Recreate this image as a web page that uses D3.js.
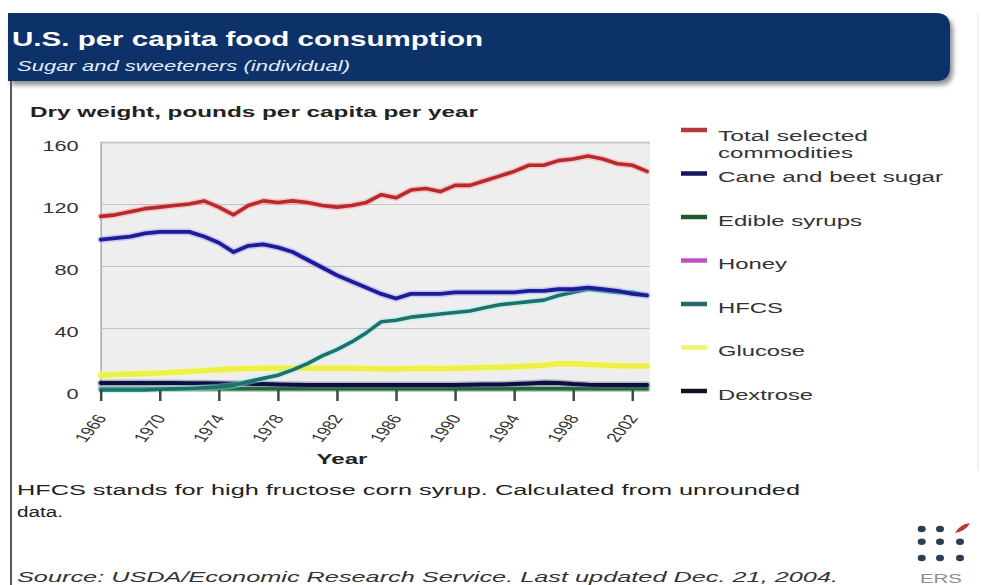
<!DOCTYPE html>
<html>
<head>
<meta charset="utf-8">
<script src="https://cdn.jsdelivr.net/npm/d3@7"></script>
<style>
  html, body { margin: 0; padding: 0; background: #ffffff; }
  svg { display: block; font-family: "Liberation Sans", Arial, sans-serif; }
</style>
</head>
<body>
<svg id="chart" width="981" height="585"></svg>
<script>
// ---------- DATA ----------
const years = [1966,1967,1968,1969,1970,1971,1972,1973,1974,1975,1976,1977,1978,1979,1980,1981,1982,1983,1984,1985,
               1986,1987,1988,1989,1990,1991,1992,1993,1994,1995,1996,1997,1998,1999,2000,2001,2002,2003];

const totalSelected = [112,113,115,117,118,119,120,122,118,113,119,122,121,122,121,119,118,119,121,126,
                       124,129,130,128,132,132,135,138,141,145,145,148,149,151,149,146,145,141];
const caneBeet      = [97,98,99,101,102,102,102,99,95,89,93,94,92,89,84,79,74,70,66,62,
                       59,62,62,62,63,63,63,63,63,64,64,65,65,66,65,64,62,61];
const edibleSyrups  = [0.8,0.8,0.8,0.8,0.8,0.8,0.8,0.8,0.8,0.8,0.8,0.8,0.8,0.8,0.8,0.8,0.8,0.8,0.8,0.8,
                       0.8,0.8,0.8,0.8,0.8,0.8,0.8,0.8,0.8,0.8,0.8,0.8,0.8,0.8,0.8,0.8,0.8,0.8];
const honey         = [1.0,1.0,1.0,1.0,1.0,1.0,1.0,1.0,1.0,1.0,1.0,1.0,1.0,1.0,1.0,1.0,1.0,1.0,1.0,1.0,
                       1.0,1.0,1.0,1.0,1.0,1.0,1.0,1.0,1.0,1.0,1.0,1.0,1.0,1.0,1.0,1.0,1.0,1.0];
const hfcs          = [0,0,0,0,0.5,0.7,1,1.5,2,3,5.5,7.5,9.5,13,17,22,26,31,37,44,
                       45,47,48,49,50,51,53,55,56,57,58,61,63,65,64,63,63,61];
const glucose       = [9.5,10,10.3,10.6,11,11.5,12,12.5,13,13.5,13.8,14,14,14,14,14,14,14,13.8,13.6,
                       13.5,13.8,14,13.8,14,14.2,14.5,14.7,15,15.5,16,17,17,16.5,16,15.7,15.5,15.5];
const dextrose      = [4.5,4.5,4.5,4.5,4.5,4.5,4.4,4.3,4.2,4.1,4.0,3.8,3.5,3.4,3.3,3.3,3.3,3.3,3.3,3.3,
                       3.3,3.3,3.3,3.3,3.3,3.4,3.5,3.6,3.8,4.2,4.6,4.5,3.8,3.4,3.3,3.2,3.2,3.2];

const seriesNames = ["Total selected commodities","Cane and beet sugar","Edible syrups","Honey","HFCS","Glucose","Dextrose"];
const xTickYears  = [1966,1970,1974,1978,1982,1986,1990,1994,1998,2002];
const yTickValues = [0,40,80,120,160];

// ---------- STYLE / LAYOUT ----------
const series = [
  {name: seriesNames[0], values: totalSelected, color: "#b8282c", halo: "#f29a9a", legend: "#b33a3a", w: 3.6, order: 6, lw: 225},
  {name: seriesNames[1], values: caneBeet,      color: "#1c1c9a", halo: "#9a9ae8", legend: "#151560", w: 3.8, order: 5, lw: 225},
  {name: seriesNames[2], values: edibleSyrups,  color: "#1d6a32", halo: "#7fbf8f", legend: "#1e5a2a", w: 3.6, order: 2, lw: 144},
  {name: seriesNames[3], values: honey,         color: "#c040c0", halo: "#e8a0e8", legend: "#c050c0", w: 3.0, order: 1, lw: 69},
  {name: seriesNames[4], values: hfcs,          color: "#1e7068", halo: "#8ef0f0", legend: "#2a6a6a", w: 3.6, order: 4, lw: 65},
  {name: seriesNames[5], values: glucose,       color: "#eef04a", halo: "#f8f8b0", legend: "#f2f26a", w: 5.5, order: 0, lw: 87},
  {name: seriesNames[6], values: dextrose,      color: "#0c1040", halo: "#6a6a90", legend: "#111122", w: 4.0, order: 3, lw: 95}
];

const SX = 1.5; // horizontal stretch of the reference image's text
const svg = d3.select("#chart");

// ---------- HEADER ----------
const defs = svg.append("defs");
const f = defs.append("filter").attr("id", "shadow").attr("x", "-5%").attr("y", "-20%").attr("width", "110%").attr("height", "160%");
f.append("feGaussianBlur").attr("in", "SourceAlpha").attr("stdDeviation", 2.5);
f.append("feOffset").attr("dx", 3).attr("dy", 4).attr("result", "ob");
f.append("feComponentTransfer").append("feFuncA").attr("type", "linear").attr("slope", 0.45);
const fm = f.append("feMerge");
fm.append("feMergeNode");
fm.append("feMergeNode").attr("in", "SourceGraphic");

const hx0 = 8, hy0 = 13, hx1 = 950, hy1 = 81, hr = 14;
svg.append("path")
  .attr("d", `M${hx0},${hy0} H${hx1 - hr} Q${hx1},${hy0} ${hx1},${hy0 + hr} V${hy1 - hr} Q${hx1},${hy1} ${hx1 - hr},${hy1} H${hx0} Z`)
  .attr("fill", "#08306a")
  .attr("filter", "url(#shadow)");

function stretchedText(sel, x, y, str, opts) {
  const t = sel.append("text")
    .attr("transform", `translate(${x},${y}) scale(${SX},1)`)
    .attr("x", 0).attr("y", 0)
    .attr("font-size", opts.size)
    .attr("font-weight", opts.weight || "normal")
    .attr("font-style", opts.style || "normal")
    .attr("fill", opts.fill || "#222")
    .attr("text-anchor", opts.anchor || "start")
    .text(str);
  if (opts.width) t.attr("textLength", opts.width / SX).attr("lengthAdjust", "spacingAndGlyphs");
  return t;
}

stretchedText(svg, 12, 46, "U.S. per capita food consumption", {size: 19.5, weight: "bold", fill: "#ffffff", width: 471});
stretchedText(svg, 17, 71, "Sugar and sweeteners (individual)", {size: 15.5, style: "italic", fill: "#e6ecf4", width: 333});

// left border
svg.append("line").attr("x1", 11).attr("x2", 11).attr("y1", 81).attr("y2", 585)
  .attr("stroke", "#555a60").attr("stroke-width", 2);
svg.append("line").attr("x1", 978).attr("x2", 978).attr("y1", 14).attr("y2", 470)
  .attr("stroke", "#e6e6e6").attr("stroke-width", 1);

// ---------- PLOT ----------
const x = d3.scaleLinear().domain([1966, 2003.2]).range([100.7, 650]);
const y = d3.scaleLinear().domain([0, 160]).range([390, 142]);

svg.append("rect")
  .attr("x", x.range()[0]).attr("y", y(160))
  .attr("width", x.range()[1] - x.range()[0]).attr("height", y(0) - y(160))
  .attr("fill", "#eeeeee");

// y axis + gridlines
const yAxis = svg.append("g")
  .attr("transform", `translate(${x.range()[0]},0)`)
  .call(d3.axisLeft(y).tickValues(yTickValues).tickSize(-(x.range()[1] - x.range()[0])).tickPadding(0));
yAxis.select(".domain").attr("stroke", "#a8a8a8").attr("stroke-width", 1.5);
yAxis.selectAll(".tick line").attr("stroke", "#c4c4c4").attr("stroke-width", 1.2);
yAxis.selectAll(".tick text")
  .attr("x", 0).attr("dy", "0.36em")
  .attr("transform", `translate(-22,3) scale(${SX},1)`)
  .attr("font-size", 14.5).attr("fill", "#333").attr("text-anchor", "end")
  .attr("font-family", "Liberation Sans, Arial, sans-serif");

// y title
stretchedText(svg, 30, 117, "Dry weight, pounds per capita per year", {size: 14.5, weight: "bold", fill: "#222", width: 448});

// lines
const line = d3.line().x((d, i) => x(years[i])).y(d => y(d));
const drawOrder = series.slice().sort((a, b) => a.order - b.order);
const lineG = svg.append("g");
drawOrder.forEach(s => {
  lineG.append("path").datum(s.values).attr("d", line)
    .attr("fill", "none").attr("stroke", s.halo).attr("stroke-width", s.w + 3)
    .attr("stroke-opacity", 0.45).attr("stroke-linejoin", "round").attr("stroke-linecap", "round");
  lineG.append("path").datum(s.values).attr("d", line)
    .attr("fill", "none").attr("stroke", s.color).attr("stroke-width", s.w)
    .attr("stroke-linejoin", "round").attr("stroke-linecap", "round");
});

// x axis
const xAxis = svg.append("g")
  .attr("transform", `translate(0,${y(0)})`)
  .call(d3.axisBottom(x).tickValues(xTickYears).tickFormat(d3.format("d")).tickSize(11).tickSizeOuter(0));
xAxis.select(".domain").remove();
xAxis.selectAll(".tick line").attr("stroke", "#3d4a3f").attr("stroke-width", 2.5);
xAxis.selectAll(".tick text")
  .attr("x", 0).attr("y", 0).attr("dy", 0)
  .attr("transform", `translate(6,28) scale(${SX},1) rotate(-60)`)
  .attr("text-anchor", "end").attr("font-size", 13).attr("fill", "#333")
  .attr("font-family", "Liberation Sans, Arial, sans-serif");

stretchedText(svg, 342, 464, "Year", {size: 14.5, weight: "bold", anchor: "middle", fill: "#222", width: 51});

// ---------- LEGEND ----------
const legendY = [130, 173.5, 217, 260.5, 304, 347.5, 391];
const legend = svg.append("g");
series.forEach((s, i) => {
  legend.append("line")
    .attr("x1", 681).attr("x2", 707).attr("y1", legendY[i]).attr("y2", legendY[i])
    .attr("stroke", s.legend).attr("stroke-width", 4.5);
  if (i === 0) {
    stretchedText(legend, 718, 140.5, "Total selected", {size: 15, fill: "#333", width: 150});
    stretchedText(legend, 718, 157.5, "commodities", {size: 15, fill: "#333", width: 135});
  } else {
    stretchedText(legend, 718, legendY[i] + 8.5, s.name, {size: 15, fill: "#333", width: s.lw});
  }
});

// ---------- NOTES ----------
stretchedText(svg, 17, 495, "HFCS stands for high fructose corn syrup. Calculated from unrounded", {size: 15, fill: "#222", width: 783});
stretchedText(svg, 17, 517, "data.", {size: 15, fill: "#222", width: 46});
stretchedText(svg, 17, 582, "Source: USDA/Economic Research Service. Last updated Dec. 21, 2004.", {size: 15, style: "italic", fill: "#333", width: 821});

// ERS logo
const logo = svg.append("g");
[[921.7,529],[940,529],[921.7,541.7],[940,541.7],[960,541.7],[921.7,558],[940,558],[960,558]].forEach(p => {
  logo.append("ellipse").attr("cx", p[0]).attr("cy", p[1]).attr("rx", 4).attr("ry", 3.3).attr("fill", "#2a3f52");
});
logo.append("path").attr("d", "M955,533 Q960,524 970,523 Q966,531 955,533 Z").attr("fill", "#b83a3a");
stretchedText(logo, 941, 583, "ERS", {size: 13, anchor: "middle", fill: "#8a9099", width: 42});
</script>
</body>
</html>
